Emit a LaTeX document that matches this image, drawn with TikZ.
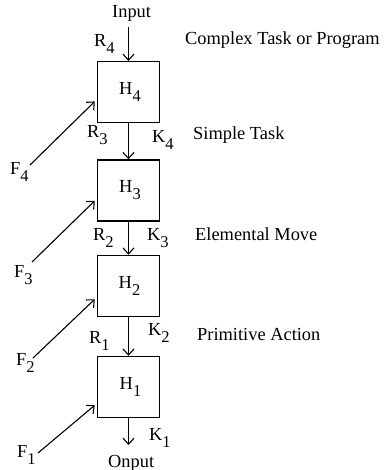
\documentclass[tikz,border=0pt]{standalone}
\usepackage{fontspec}
\setmainfont{Liberation Serif}
\usetikzlibrary{arrows.meta}
% lowered index, set almost at full size
\newcommand{\lowidx}[1]{\raisebox{-7pt}{\fontsize{16.5}{16.5}\selectfont #1}}

\begin{document}
\begin{tikzpicture}[x=1pt, y=-1pt,
  font=\fontsize{18.4}{20}\selectfont,
  hbox/.style={draw, line width=1.5pt, minimum width=62pt, minimum height=61pt, inner sep=0pt},
  lbl/.style={anchor=base west, inner sep=0pt},
  flow/.style={line width=1.1pt, -{Straight Barb[length=6pt,width=11pt]}}]
\useasboundingbox (0,0) rectangle (383,470);

% hierarchy of controllers
\node[hbox] (h4) at (128.5,92.2) {\kern3pt H\lowidx{4}};
\node[hbox] (h3) at (128.5,190.5) {\kern3pt H\lowidx{3}};
\node[hbox] (h2) at (128.5,286) {\kern2pt H\lowidx{2}};
\node[hbox] (h1) at (128.5,387) {\kern4pt H\lowidx{1}};

% input and output
\node[lbl] (input) at (112,18) {Input};
\node[lbl] (output) at (108,467) {Onput};
\coordinate (inTop) at (128.5,27);
\coordinate (outEnd) at (128.5,445);

\draw[flow] (inTop) -- (h4.north);
\draw[flow] (h4.south) -- (h3.north);
\draw[flow] (h3.south) -- (h2.north);
\draw[flow] (h2.south) -- (h1.north);
\draw[flow] (h1.south) -- (outEnd);

% command / feedback labels on the links
\node[lbl] (r4) at (94,47) {R\lowidx{4}};
\node[lbl] (r3) at (87,138) {R\lowidx{3}};
\node[lbl] (k4) at (152,143) {K\lowidx{4}};
\node[lbl] (r2) at (93,240) {R\lowidx{2}};
\node[lbl] (k3) at (147,240) {K\lowidx{3}};
\node[lbl] (r1) at (89,343) {R\lowidx{1}};
\node[lbl] (k2) at (148,335) {K\lowidx{2}};
\node[lbl] (k1) at (149,440) {K\lowidx{1}};

% feedback inputs
\node[lbl] (f4) at (10,175) {F\lowidx{4}};
\node[lbl] (f3) at (14,277) {F\lowidx{3}};
\node[lbl] (f2) at (16,365) {F\lowidx{2}};
\node[lbl] (f1) at (17,457) {F\lowidx{1}};
\coordinate (f4s) at (30,165);
\coordinate (f3s) at (32,262);
\coordinate (f2s) at (33,358);
\coordinate (f1s) at (38,453);

\draw[flow] (f4s) -- ([shift={(-2,-22)}]h4.south west);
\draw[flow] (f3s) -- ([shift={(-2,-21)}]h3.south west);
\draw[flow] (f2s) -- ([shift={(-2,-18)}]h2.south west);
\draw[flow] (f1s) -- ([shift={(-2,-13)}]h1.south west);

% levels of the hierarchy
\node[lbl] (lv4) at (185,45) {Complex Task or Program};
\node[lbl] (lv3) at (193,140) {Simple Task};
\node[lbl] (lv2) at (195,240) {Elemental Move};
\node[lbl] (lv1) at (197,340) {Primitive Action};
\end{tikzpicture}
\end{document}
